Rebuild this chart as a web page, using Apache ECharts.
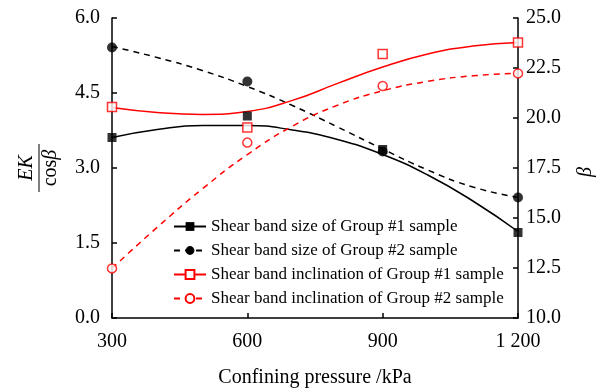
<!DOCTYPE html>
<html>
<head>
<meta charset="utf-8">
<script src="https://cdn.jsdelivr.net/npm/echarts@6/dist/echarts.min.js"></script>
<style>
html,body{margin:0;padding:0;background:#fff;}
#chart{width:598px;height:388px;}
</style>
</head>
<body>
<div id="chart"></div>
<script>
// Measured points
const pressure = [300, 600, 900, 1200];
const sizeG1 = [3.61, 4.04, 3.37, 1.71];
const sizeG2 = [5.41, 4.73, 3.33, 2.41];
const inclG1 = [20.55, 19.52, 23.20, 23.78];
const inclG2 = [12.48, 18.77, 21.60, 22.23];

// Trend curves
const curveX = [300, 400, 500, 600, 700, 800, 900, 1000, 1100, 1200];
const sizeG1Fit = [3.61, 3.77, 3.85, 3.85, 3.76, 3.57, 3.27, 2.86, 2.34, 1.73];
const sizeG2Fit = [5.43, 5.21, 4.95, 4.63, 4.25, 3.82, 3.38, 2.96, 2.62, 2.41];
const inclG1Fit = [20.53, 20.28, 20.18, 20.33, 20.88, 21.73, 22.55, 23.20, 23.60, 23.78];
const inclG2Fit = [12.48, 14.53, 16.45, 18.17, 19.59, 20.64, 21.36, 21.83, 22.11, 22.23];

// Tick labels
const xTicks = [300, 600, 900, 1200];
const xTickLabels = ['300', '600', '900', '1 200'];

const seriesNames = [
  'Shear band size of Group #1 sample',
  'Shear band size of Group #2 sample',
  'Shear band inclination of Group #1 sample',
  'Shear band inclination of Group #2 sample'
];

const FONT = '"Liberation Serif", "Times New Roman", serif';
const pair = (xs, ys) => xs.map((x, i) => [x, ys[i]]);

const chart = echarts.init(document.getElementById('chart'), null, {renderer: 'canvas'});

function curve(name, xs, ys, color, dashed, symbol, axis) {
  return {
    name: name, type: 'line', yAxisIndex: axis,
    data: pair(xs, ys), smooth: 0.5, showSymbol: false,
    symbol: symbol, symbolSize: 9,
    lineStyle: {color: color, width: 1.5, type: dashed ? [6, 5] : 'solid'},
    itemStyle: {color: color},
    z: 2, silent: true
  };
}
function points(name, ys, color, symbol, open, axis, z, size) {
  return {
    name: name, type: 'scatter', yAxisIndex: axis,
    data: pair(pressure, ys), symbol: symbol, symbolSize: size,
    itemStyle: open ? {color: '#fff', borderColor: color, borderWidth: 1.5} : {color: color},
    z: z, silent: true
  };
}

const axisLine = {show: true, lineStyle: {color: '#000', width: 1.5}};
const axisTick = {show: true, inside: true, length: 5, lineStyle: {color: '#000', width: 1.5}};

chart.setOption({
  animation: false,
  backgroundColor: '#fff',
  grid: {left: 112, right: 80, top: 18, bottom: 70, containLabel: false, outerBoundsMode: 'none'},
  legend: {
    data: seriesNames,
    orient: 'vertical', left: 168, top: 213,
    itemWidth: 32, itemHeight: 11, itemGap: 7,
    textStyle: {fontFamily: FONT, fontSize: 17, color: '#000'},
    selectedMode: false
  },
  xAxis: {
    type: 'value', min: 300, max: 1200, interval: 300,
    axisLine: axisLine, axisTick: axisTick, splitLine: {show: false},
    axisLabel: {
      margin: 14, color: '#000', fontFamily: FONT, fontSize: 20,
      formatter: v => { const i = xTicks.indexOf(v); return i >= 0 ? xTickLabels[i] : ''; }
    },
    name: 'Confining pressure /kPa', nameLocation: 'middle', nameGap: 50,
    nameTextStyle: {fontFamily: FONT, fontSize: 20, color: '#000'}
  },
  yAxis: [
    {
      type: 'value', min: 0, max: 6, interval: 1.5, position: 'left',
      axisLine: axisLine, axisTick: axisTick, splitLine: {show: false},
      axisLabel: {margin: 12, color: '#000', fontFamily: FONT, fontSize: 20, formatter: v => v.toFixed(1)}
    },
    {
      type: 'value', min: 10, max: 25, interval: 2.5, position: 'right',
      axisLine: axisLine, axisTick: axisTick, splitLine: {show: false},
      axisLabel: {margin: 8, color: '#000', fontFamily: FONT, fontSize: 20, formatter: v => v.toFixed(1)}
    }
  ],
  graphic: [
    {
      type: 'group', x: 39, y: 168, rotation: Math.PI / 2,
      children: [
        {type: 'text', x: 0, y: -2, style: {text: 'EK', font: 'italic 20px ' + FONT, fill: '#000', textAlign: 'center', textVerticalAlign: 'bottom'}},
        {type: 'line', shape: {x1: -24, y1: 0, x2: 24, y2: 0}, style: {stroke: '#000', lineWidth: 1}},
        {type: 'text', x: 0, y: 2, style: {
          text: '{n|cos}{i|β}', textAlign: 'center', textVerticalAlign: 'top', fill: '#000',
          rich: {n: {fontFamily: FONT, fontSize: 20, fill: '#000'}, i: {fontFamily: FONT, fontSize: 20, fontStyle: 'italic', fill: '#000'}}
        }}
      ]
    },
    {
      type: 'text', x: 586, y: 172, rotation: Math.PI / 2,
      style: {text: 'β', font: 'italic 20px ' + FONT, fill: '#000', textAlign: 'center', textVerticalAlign: 'middle'}
    }
  ],
  series: [
    curve(seriesNames[0], curveX, sizeG1Fit, '#000', false, 'rect', 0),
    curve(seriesNames[1], curveX, sizeG2Fit, '#000', true, 'circle', 0),
    curve(seriesNames[2], curveX, inclG1Fit, '#ff0000', false, 'emptyRect', 1),
    curve(seriesNames[3], curveX, inclG2Fit, '#ff0000', true, 'emptyCircle', 1),
    points(seriesNames[1], sizeG2, '#000', 'circle', false, 0, 5, 10),
    points(seriesNames[0], sizeG1, '#000', 'rect', false, 0, 6, 9),
    points(seriesNames[3], inclG2, '#ff0000', 'circle', true, 1, 5, 9),
    points(seriesNames[2], inclG1, '#ff0000', 'rect', true, 1, 6, 9)
  ]
});
</script>
</body>
</html>
